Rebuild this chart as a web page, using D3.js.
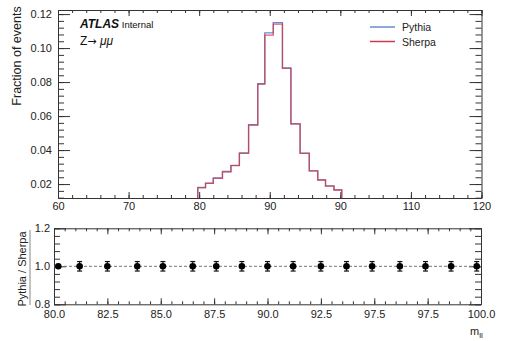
<!DOCTYPE html>
<html>
<head>
<meta charset="utf-8">
<script src="https://cdn.jsdelivr.net/npm/d3@7"></script>
<style>
  body { margin: 0; background: #fff; }
  svg { display: block; font-family: "Liberation Sans", Arial, Helvetica, sans-serif; }
  .axis path { stroke: #333; }
  .axis line { stroke: #333; }
  .axis text { fill: #222; font-size: 11px; font-family: "Liberation Sans", Arial, sans-serif; }
</style>
</head>
<body>
<div id="chart"></div>
<script>
// histogram bin edges (m_ll, top panel axis units)
const binEdges = [79.8, 80.9, 82.0, 83.3, 84.5, 85.7, 87.0, 88.3, 89.3, 90.5, 91.8, 93.0, 94.3, 95.6, 96.8, 97.9, 99.1, 100.2];
const pythiaVals = [0.0180, 0.0206, 0.0236, 0.0274, 0.0310, 0.0383, 0.0549, 0.0790, 0.1090, 0.1150, 0.0883, 0.0555, 0.0382, 0.0278, 0.0225, 0.0189, 0.0166];
const sherpaVals = [0.0178, 0.0204, 0.0234, 0.0272, 0.0308, 0.0381, 0.0547, 0.0788, 0.1076, 0.1141, 0.0881, 0.0553, 0.0381, 0.0277, 0.0224, 0.0188, 0.0165];

// ratio panel points
const ratioX = [80.2, 81.2, 82.5, 83.9, 85.1, 86.5, 87.6, 88.8, 90.0, 91.2, 92.5, 93.7, 94.9, 96.2, 97.4, 98.6, 99.8];
const ratioVals = [1.0, 1.0, 1.0, 1.0, 1.0, 1.0, 1.0, 1.0, 1.0, 1.0, 1.0, 1.0, 1.0, 1.0, 1.0, 1.0, 1.0];
const ratioErr = [0, 0.025, 0.025, 0.025, 0.025, 0.025, 0.025, 0.025, 0.025, 0.025, 0.025, 0.025, 0.025, 0.025, 0.025, 0.025, 0.025];

// tick values and labels (as printed on the figure)
const topXTicks = [60, 70, 80, 90, 100, 110, 120];
const topXLabels = ["60", "70", "80", "90", "90", "110", "120"];
const topYTicks = [0.02, 0.04, 0.06, 0.08, 0.10, 0.12];
const topYLabels = ["0.02", "0.04", "0.06", "0.08", "0.10", "0.12"];
const botXTicks = [80, 82.5, 85, 87.5, 90, 92.5, 95, 97.5, 100];
const botXLabels = ["80.0", "82.5", "85.0", "87.5", "90.0", "92.5", "97.5", "97.5", "100.0"];
const botYTicks = [0.8, 1.0, 1.2];
const botYLabels = ["0.8", "1.0", "1.2"];

const series = [
  { name: "Pythia", values: pythiaVals, color: "#6a8bd0" },
  { name: "Sherpa", values: sherpaVals, color: "#cf3a4a" }
];

const W = 507, H = 341;
const svg = d3.select("#chart").append("svg")
  .attr("width", W)
  .attr("height", H);

svg.append("rect").attr("width", W).attr("height", H).attr("fill", "#fff");

// ---------- main panel ----------
const mainBox = { left: 58, right: 481.5, top: 10, bottom: 198 };
const x = d3.scaleLinear().domain([60, 120]).range([mainBox.left, mainBox.right]);
const y = d3.scaleLinear().domain([0.0118, 0.1224]).range([mainBox.bottom, mainBox.top]);

function fmt(ticks, labels) {
  return (d) => labels[ticks.indexOf(d)];
}

// draws the four sides of a ROOT-style frame with inward ticks
function frame(box, xs, ys, o) {
  const sides = [
    [d3.axisBottom, xs, `translate(0,${box.bottom})`, o.xMinor, o.xLen],
    [d3.axisTop, xs, `translate(0,${box.top})`, o.xMinor, o.xLen],
    [d3.axisLeft, ys, `translate(${box.left},0)`, o.yMinor, o.yLen],
    [d3.axisRight, ys, `translate(${box.right},0)`, o.yMinor, o.yLen]
  ];
  sides.forEach(([ax, sc, tr, minor, len]) => {
    svg.append("g").attr("class", "axis")
      .attr("transform", tr)
      .call(ax(sc).tickValues(minor).tickSize(-len / 2).tickFormat(""))
      .call(g => g.select(".domain").remove());
  });
  svg.append("g").attr("class", "axis")
    .attr("transform", sides[0][2])
    .call(d3.axisBottom(xs).tickValues(o.xTicks).tickSize(-o.xLen).tickSizeOuter(0)
      .tickPadding(o.xPad).tickFormat(fmt(o.xTicks, o.xLabels)));
  svg.append("g").attr("class", "axis")
    .attr("transform", sides[1][2])
    .call(d3.axisTop(xs).tickValues(o.xTicks).tickSize(-o.xLen).tickSizeOuter(0).tickFormat(""));
  svg.append("g").attr("class", "axis")
    .attr("transform", sides[2][2])
    .call(d3.axisLeft(ys).tickValues(o.yTicks).tickSize(-o.yLen).tickSizeOuter(0)
      .tickPadding(o.yPad).tickFormat(fmt(o.yTicks, o.yLabels)));
  svg.append("g").attr("class", "axis")
    .attr("transform", sides[3][2])
    .call(d3.axisRight(ys).tickValues(o.yTicks).tickSize(-o.yLen).tickSizeOuter(0).tickFormat(""));
}

frame(mainBox, x, y, {
  xTicks: topXTicks, xLabels: topXLabels, xMinor: d3.range(60, 121, 2), xLen: 6, xPad: 4,
  yTicks: topYTicks, yLabels: topYLabels, yMinor: d3.range(0.012, 0.1225, 0.004), yLen: 12, yPad: 6
});

// histograms as step outlines
const line = d3.line().x(d => x(d[0])).y(d => y(d[1]));
series.forEach((s, si) => {
  const pts = [[binEdges[0], y.domain()[0]]];
  s.values.forEach((v, i) => {
    pts.push([binEdges[i], v]);
    pts.push([binEdges[i + 1], v]);
  });
  pts.push([binEdges[binEdges.length - 1], y.domain()[0]]);
  svg.append("path")
    .datum(pts)
    .attr("d", line)
    .attr("fill", "none")
    .attr("stroke", s.color)
    .attr("stroke-width", 1.3)
    .attr("stroke-opacity", si === 1 ? 0.8 : 1);
});

// ATLAS label
const atlas = svg.append("text").attr("x", 80).attr("y", 28).attr("fill", "#111");
atlas.append("tspan").text("ATLAS")
  .attr("font-weight", "bold").attr("font-style", "italic").attr("font-size", 12);
atlas.append("tspan").text(" Internal").attr("font-size", 9.5);

const proc = svg.append("text").attr("x", 80).attr("y", 45).attr("fill", "#111").attr("font-size", 12);
proc.append("tspan").text("Z");
proc.append("tspan").text("\u2192").attr("font-family", "DejaVu Sans").attr("font-size", 11);
proc.append("tspan").text(" \u03bc\u03bc").attr("font-style", "italic");

// legend
series.forEach((s, i) => {
  const ly = 27 + i * 14.5;
  svg.append("line")
    .attr("x1", 370).attr("x2", 395)
    .attr("y1", ly).attr("y2", ly)
    .attr("stroke", s.color).attr("stroke-width", 1.5);
  svg.append("text")
    .attr("x", 402).attr("y", ly + 4)
    .attr("font-size", 10.5).attr("fill", "#222")
    .text(s.name);
});

// y title
svg.append("text")
  .attr("transform", "translate(21,56) rotate(-90)")
  .attr("text-anchor", "middle")
  .attr("font-size", 12.5).attr("fill", "#222")
  .text("Fraction of events");

// ---------- ratio panel ----------
const ratioBox = { left: 54, right: 481, top: 228.3, bottom: 304.3 };
const x2 = d3.scaleLinear().domain([80, 100]).range([ratioBox.left, ratioBox.right]);
const y2 = d3.scaleLinear().domain([0.8, 1.2]).range([ratioBox.bottom, ratioBox.top]);

frame(ratioBox, x2, y2, {
  xTicks: botXTicks, xLabels: botXLabels, xMinor: d3.range(80, 100.01, 0.5), xLen: 6, xPad: 6,
  yTicks: botYTicks, yLabels: botYLabels, yMinor: d3.range(0.8, 1.201, 0.04), yLen: 12, yPad: 4
});

// reference line at 1
svg.append("line")
  .attr("x1", ratioBox.left).attr("x2", ratioBox.right)
  .attr("y1", y2(1)).attr("y2", y2(1))
  .attr("stroke", "#777").attr("stroke-width", 1)
  .attr("stroke-dasharray", "3,2");

// points with error bars
const pts = ratioX.map((d, i) => ({ x: d, v: ratioVals[i], e: ratioErr[i] }));
const withErr = pts.filter(d => d.e > 0);
const pg = svg.append("g");
pg.selectAll(".err").data(withErr).enter().append("line")
  .attr("x1", d => x2(d.x)).attr("x2", d => x2(d.x))
  .attr("y1", d => y2(d.v - d.e)).attr("y2", d => y2(d.v + d.e))
  .attr("stroke", "#111").attr("stroke-width", 1.2);
[-1, 1].forEach(sgn => {
  pg.selectAll(".cap" + (sgn > 0 ? "u" : "d")).data(withErr).enter().append("line")
    .attr("x1", d => x2(d.x) - 2.5).attr("x2", d => x2(d.x) + 2.5)
    .attr("y1", d => y2(d.v + sgn * d.e)).attr("y2", d => y2(d.v + sgn * d.e))
    .attr("stroke", "#111").attr("stroke-width", 1.2);
});
pg.selectAll("circle").data(pts).enter().append("circle")
  .attr("cx", d => x2(d.x)).attr("cy", d => y2(d.v))
  .attr("r", 3.3).attr("fill", "#000");

// ratio y title + side bar
svg.append("text")
  .attr("transform", "translate(26,269) rotate(-90)")
  .attr("text-anchor", "middle")
  .attr("font-size", 11).attr("fill", "#222")
  .text("Pythia / Sherpa");
svg.append("line")
  .attr("x1", 30).attr("x2", 30)
  .attr("y1", 230).attr("y2", 305)
  .attr("stroke", "#888").attr("stroke-width", 1);

// x title
const mt = svg.append("text").attr("x", 470).attr("y", 335).attr("fill", "#222").attr("font-size", 11);
mt.append("tspan").text("m");
mt.append("tspan").text("ll").attr("font-size", 8).attr("dy", 3);
</script>
</body>
</html>
